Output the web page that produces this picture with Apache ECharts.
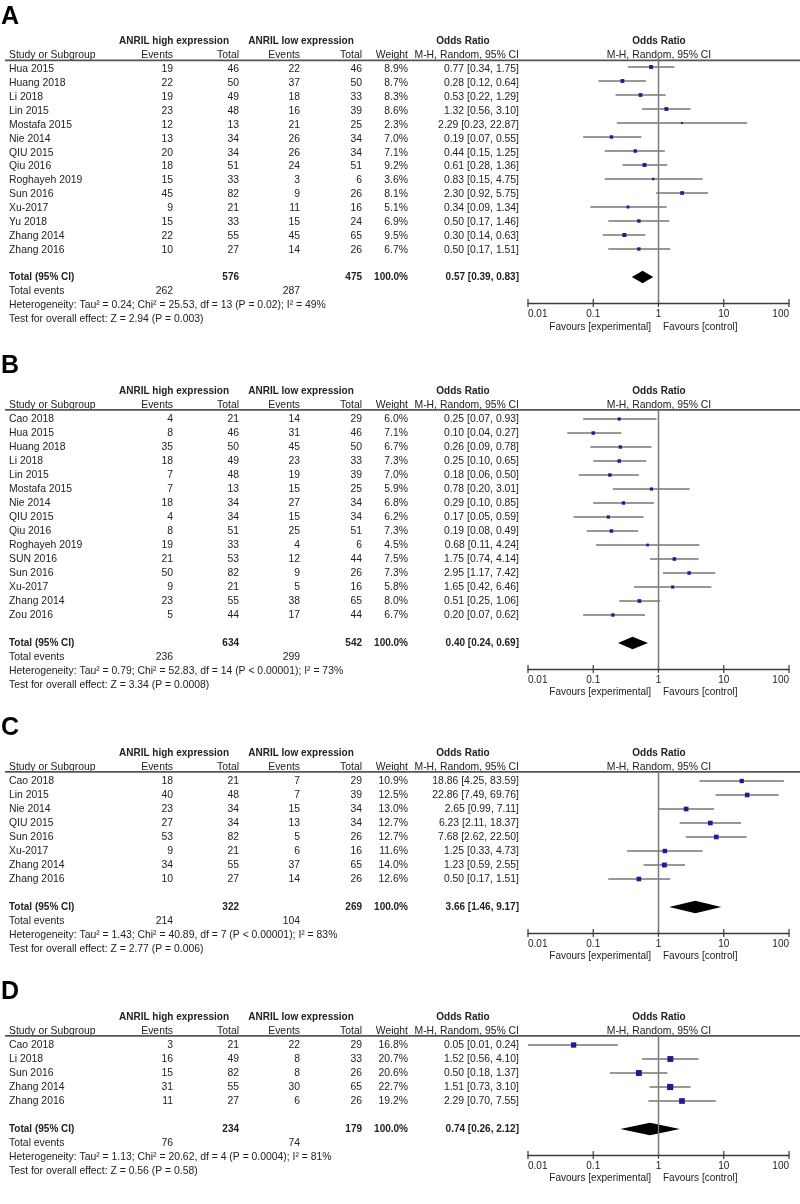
<!DOCTYPE html>
<html><head><meta charset="utf-8">
<script src="https://cdn.jsdelivr.net/npm/echarts@6/dist/echarts.min.js"></script>
<style>html,body{margin:0;padding:0;background:#fff}#c{width:800px;height:1204px}</style>
</head><body><div id="c"></div>
<script>
// ---------- DATA ----------
const panelLabels = ['A', 'B', 'C', 'D'];
const tickLabels = ['0.01', '0.1', '1', '10', '100'];

const studiesA = ["Hua 2015","Huang 2018","Li 2018","Lin 2015","Mostafa 2015","Nie 2014","QIU 2015","Qiu 2016","Roghayeh 2019","Sun 2016","Xu-2017","Yu 2018","Zhang 2014","Zhang 2016"];
const eventsHighA = [19,22,19,23,12,13,20,18,15,45,9,15,22,10];
const totalHighA = [46,50,49,48,13,34,34,51,33,82,21,33,55,27];
const eventsLowA = [22,37,18,16,21,26,26,24,3,9,11,15,45,14];
const totalLowA = [46,50,33,39,25,34,34,51,6,26,16,24,65,26];
const weightA = [8.9,8.7,8.3,8.6,2.3,7.0,7.1,9.2,3.6,8.1,5.1,6.9,9.5,6.7];
const orA = [0.77,0.28,0.53,1.32,2.29,0.19,0.44,0.61,0.83,2.30,0.34,0.50,0.30,0.50];
const loA = [0.34,0.12,0.22,0.56,0.23,0.07,0.15,0.28,0.15,0.92,0.09,0.17,0.14,0.17];
const hiA = [1.75,0.64,1.29,3.10,22.87,0.55,1.25,1.36,4.75,5.75,1.34,1.46,0.63,1.51];

const studiesB = ["Cao 2018","Hua 2015","Huang 2018","Li 2018","Lin 2015","Mostafa 2015","Nie 2014","QIU 2015","Qiu 2016","Roghayeh 2019","SUN 2016","Sun 2016","Xu-2017","Zhang 2014","Zou 2016"];
const eventsHighB = [4,8,35,18,7,7,18,4,8,19,21,50,9,23,5];
const totalHighB = [21,46,50,49,48,13,34,34,51,33,53,82,21,55,44];
const eventsLowB = [14,31,45,23,19,15,27,15,25,4,12,9,5,38,17];
const totalLowB = [29,46,50,33,39,25,34,34,51,6,44,26,16,65,44];
const weightB = [6.0,7.1,6.7,7.3,7.0,5.9,6.8,6.2,7.3,4.5,7.5,7.3,5.8,8.0,6.7];
const orB = [0.25,0.10,0.26,0.25,0.18,0.78,0.29,0.17,0.19,0.68,1.75,2.95,1.65,0.51,0.20];
const loB = [0.07,0.04,0.09,0.10,0.06,0.20,0.10,0.05,0.08,0.11,0.74,1.17,0.42,0.25,0.07];
const hiB = [0.93,0.27,0.78,0.65,0.50,3.01,0.85,0.59,0.49,4.24,4.14,7.42,6.46,1.06,0.62];

const studiesC = ["Cao 2018","Lin 2015","Nie 2014","QIU 2015","Sun 2016","Xu-2017","Zhang 2014","Zhang 2016"];
const eventsHighC = [18,40,23,27,53,9,34,10];
const totalHighC = [21,48,34,34,82,21,55,27];
const eventsLowC = [7,7,15,13,5,6,37,14];
const totalLowC = [29,39,34,34,26,16,65,26];
const weightC = [10.9,12.5,13.0,12.7,12.7,11.6,14.0,12.6];
const orC = [18.86,22.86,2.65,6.23,7.68,1.25,1.23,0.50];
const loC = [4.25,7.49,0.99,2.11,2.62,0.33,0.59,0.17];
const hiC = [83.59,69.76,7.11,18.37,22.50,4.73,2.55,1.51];

const studiesD = ["Cao 2018","Li 2018","Sun 2016","Zhang 2014","Zhang 2016"];
const eventsHighD = [3,16,15,31,11];
const totalHighD = [21,49,82,55,27];
const eventsLowD = [22,8,8,30,6];
const totalLowD = [29,33,26,65,26];
const weightD = [16.8,20.7,20.6,22.7,19.2];
const orD = [0.05,1.52,0.50,1.51,2.29];
const loD = [0.01,0.56,0.18,0.73,0.70];
const hiD = [0.24,4.10,1.37,3.10,7.55];

// pooled / summary values per panel (A, B, C, D)
const pooledOR = [0.57, 0.40, 3.66, 0.74];
const pooledLo = [0.39, 0.24, 1.46, 0.26];
const pooledHi = [0.83, 0.69, 9.17, 2.12];
const sumTotalHigh = [576, 634, 322, 234];
const sumTotalLow = [475, 542, 269, 179];
const sumEventsHigh = [262, 236, 214, 76];
const sumEventsLow = [287, 299, 104, 74];
const heterogeneity = [
  "Heterogeneity: Tau\u00b2 = 0.24; Chi\u00b2 = 25.53, df = 13 (P = 0.02); I\u00b2 = 49%",
  "Heterogeneity: Tau\u00b2 = 0.79; Chi\u00b2 = 52.83, df = 14 (P < 0.00001); I\u00b2 = 73%",
  "Heterogeneity: Tau\u00b2 = 1.43; Chi\u00b2 = 40.89, df = 7 (P < 0.00001); I\u00b2 = 83%",
  "Heterogeneity: Tau\u00b2 = 1.13; Chi\u00b2 = 20.62, df = 4 (P = 0.0004); I\u00b2 = 81%"
];
const overallTest = [
  "Test for overall effect: Z = 2.94 (P = 0.003)",
  "Test for overall effect: Z = 3.34 (P = 0.0008)",
  "Test for overall effect: Z = 2.77 (P = 0.006)",
  "Test for overall effect: Z = 0.56 (P = 0.58)"
];

// ---------- LAYOUT ----------
const panels = [
  {studies: studiesA, eh: eventsHighA, th: totalHighA, el: eventsLowA, tl: totalLowA, w: weightA, or: orA, lo: loA, hi: hiA},
  {studies: studiesB, eh: eventsHighB, th: totalHighB, el: eventsLowB, tl: totalLowB, w: weightB, or: orB, lo: loB, hi: hiB},
  {studies: studiesC, eh: eventsHighC, th: totalHighC, el: eventsLowC, tl: totalLowC, w: weightC, or: orC, lo: loC, hi: hiC},
  {studies: studiesD, eh: eventsHighD, th: totalHighD, el: eventsLowD, tl: totalLowD, w: weightD, or: orD, lo: loD, hi: hiD}
];
const ROW = 14;
const FIRST_Y = [67, 419, 781, 1045];
const COL = {study: 9, ev1: 173, tot1: 239, ev2: 300, tot2: 362, wt: 408, orTxt: 519, high: 174, low: 301, orHead: 463, plotC: 659, favL: 651, favR: 663, letter: 1};
const PLOT_LEFT = 528, PLOT_W = 261;
const FONT = '"Liberation Sans", Arial, sans-serif';
const FS = 10.4;
const TXT = '#222';
const BOX = '#1c1c96';
const AXC = '#3a3a3a';

const f2 = v => v.toFixed(2);
const ciText = (o, l, h) => f2(o) + ' [' + f2(l) + ', ' + f2(h) + ']';

const grid = [], xAxis = [], yAxis = [], series = [];

panels.forEach((P, k) => {
  const n = P.studies.length;
  const y0 = FIRST_Y[k];
  const axisRow = n + 2.85;

  // table grid (x in 0..800 layout units, y in row units)
  const gT = grid.length;
  grid.push({left: 0, width: 800, top: y0 - 5 * ROW, height: (n + 11) * ROW});
  const xT = xAxis.length;
  xAxis.push({type: 'value', gridIndex: gT, min: 0, max: 800, show: false});
  const yT = yAxis.length;
  yAxis.push({type: 'value', gridIndex: gT, min: -5, max: n + 6, inverse: true, show: false});

  // plot grid
  const gP = grid.length;
  grid.push({left: PLOT_LEFT, width: PLOT_W, top: y0 - 0.65 * ROW, height: (axisRow + 0.65) * ROW});
  const xP = xAxis.length;
  xAxis.push({
    type: 'log', logBase: 10, gridIndex: gP, min: 0.01, max: 100, position: 'bottom',
    axisLine: {onZero: false, lineStyle: {color: AXC, width: 1.3}},
    axisTick: {show: false},
    minorTick: {show: false}, splitLine: {show: false},
    axisLabel: {
      color: TXT, fontSize: 10, fontFamily: FONT, margin: 6,
      alignMinLabel: 'left', alignMaxLabel: 'right',
      formatter: v => tickLabels[Math.round(Math.log10(v)) + 2]
    }
  });
  const yP = yAxis.length;
  yAxis.push({type: 'value', gridIndex: gP, min: -0.65, max: axisRow, inverse: true, show: false});

  // ---- texts ----
  const items = [];
  const add = (x, row, text, align, bold, size) => items.push({x, row, text: String(text), align, bold: !!bold, size: size || (bold ? 10 : FS)});
  add(COL.letter, -3.8, panelLabels[k], 'left', true, 25);
  add(COL.high, -2, 'ANRIL high expression', 'center', true);
  add(COL.low, -2, 'ANRIL low expression', 'center', true);
  add(COL.orHead, -2, 'Odds Ratio', 'center', true);
  add(COL.plotC, -2, 'Odds Ratio', 'center', true);
  add(COL.study, -1, 'Study or Subgroup', 'left');
  add(COL.ev1, -1, 'Events', 'right');
  add(COL.tot1, -1, 'Total', 'right');
  add(COL.ev2, -1, 'Events', 'right');
  add(COL.tot2, -1, 'Total', 'right');
  add(COL.wt, -1, 'Weight', 'right');
  add(COL.orTxt, -1, 'M-H, Random, 95% CI', 'right');
  add(COL.plotC, -1, 'M-H, Random, 95% CI', 'center');
  P.studies.forEach((s, i) => {
    add(COL.study, i, s, 'left');
    add(COL.ev1, i, P.eh[i], 'right');
    add(COL.tot1, i, P.th[i], 'right');
    add(COL.ev2, i, P.el[i], 'right');
    add(COL.tot2, i, P.tl[i], 'right');
    add(COL.wt, i, P.w[i].toFixed(1) + '%', 'right');
    add(COL.orTxt, i, ciText(P.or[i], P.lo[i], P.hi[i]), 'right');
  });
  add(COL.study, n + 1, 'Total (95% CI)', 'left', true);
  add(COL.tot1, n + 1, sumTotalHigh[k], 'right', true);
  add(COL.tot2, n + 1, sumTotalLow[k], 'right', true);
  add(COL.wt, n + 1, '100.0%', 'right', true);
  add(COL.orTxt, n + 1, ciText(pooledOR[k], pooledLo[k], pooledHi[k]), 'right', true);
  add(COL.study, n + 2, 'Total events', 'left');
  add(COL.ev1, n + 2, sumEventsHigh[k], 'right');
  add(COL.ev2, n + 2, sumEventsLow[k], 'right');
  add(COL.study, n + 3, heterogeneity[k], 'left');
  add(COL.study, n + 4, overallTest[k], 'left');
  add(COL.favL, n + 4.55, 'Favours [experimental]', 'right', false, 10);
  add(COL.favR, n + 4.55, 'Favours [control]', 'left', false, 10);

  series.push({
    type: 'custom', xAxisIndex: xT, yAxisIndex: yT, clip: false, silent: true,
    data: items.map(it => [it.x, it.row]),
    encode: {x: 0, y: 1},
    renderItem: (params, api) => {
      const it = items[params.dataIndex];
      const p = api.coord([api.value(0), api.value(1)]);
      return {
        type: 'text', x: p[0], y: p[1],
        style: {
          text: it.text,
          font: (it.bold ? 'bold ' : '') + it.size + 'px ' + FONT,
          fill: it.size > 20 ? '#000' : TXT,
          align: it.align, verticalAlign: 'middle',
          textAlign: it.align, textVerticalAlign: 'middle'
        }
      };
    }
  });

  // header rule line
  series.push({
    type: 'line', xAxisIndex: xT, yAxisIndex: yT, symbol: 'none', silent: true,
    lineStyle: {color: '#555', width: 1.6},
    data: [[5, -0.65], [800, -0.65]]
  });

  // vertical line of no effect
  series.push({
    type: 'line', xAxisIndex: xP, yAxisIndex: yP, symbol: 'none', silent: true,
    lineStyle: {color: '#7a7a7a', width: 1.5},
    data: [[1, -0.65], [1, axisRow]]
  });

  // axis ticks crossing the axis line (both sides)
  series.push({
    type: 'custom', xAxisIndex: xP, yAxisIndex: yP, clip: false, silent: true,
    data: tickLabels.map(t => [Number(t), axisRow]),
    encode: {x: 0, y: 1},
    renderItem: (params, api) => {
      const p = api.coord([api.value(0), api.value(1)]);
      return {type: 'line', shape: {x1: p[0], y1: p[1] - 4, x2: p[0], y2: p[1] + 4}, style: {stroke: AXC, lineWidth: 1.2}};
    }
  });

  // study CIs and boxes
  series.push({
    type: 'custom', xAxisIndex: xP, yAxisIndex: yP, clip: false, silent: true,
    data: P.studies.map((s, i) => [P.lo[i], P.hi[i], P.or[i], i, P.w[i]]),
    encode: {x: [0, 1, 2], y: 3},
    renderItem: (params, api) => {
      const row = api.value(3);
      const a = api.coord([api.value(0), row]);
      const b = api.coord([api.value(1), row]);
      const c = api.coord([api.value(2), row]);
      const s = 1.3 * Math.sqrt(api.value(4));
      return {
        type: 'group', children: [
          {type: 'line', shape: {x1: a[0], y1: a[1], x2: b[0], y2: b[1]}, style: {stroke: '#333', lineWidth: 1.1}},
          {type: 'rect', shape: {x: c[0] - s / 2, y: c[1] - s / 2, width: s, height: s}, style: {fill: BOX}}
        ]
      };
    }
  });

  // pooled diamond
  series.push({
    type: 'custom', xAxisIndex: xP, yAxisIndex: yP, clip: false, silent: true,
    data: [[pooledLo[k], pooledHi[k], pooledOR[k], n + 1]],
    encode: {x: [0, 1, 2], y: 3},
    renderItem: (params, api) => {
      const row = api.value(3);
      const a = api.coord([api.value(0), row]);
      const b = api.coord([api.value(1), row]);
      const t = api.coord([api.value(2), row - 0.45]);
      const u = api.coord([api.value(2), row + 0.45]);
      return {type: 'polygon', shape: {points: [a, t, b, u]}, style: {fill: '#000'}};
    }
  });
});

const chart = echarts.init(document.getElementById('c'), null, {renderer: 'canvas'});
chart.setOption({
  backgroundColor: '#fff',
  animation: false,
  grid, xAxis, yAxis, series
});
</script>
</body></html>
